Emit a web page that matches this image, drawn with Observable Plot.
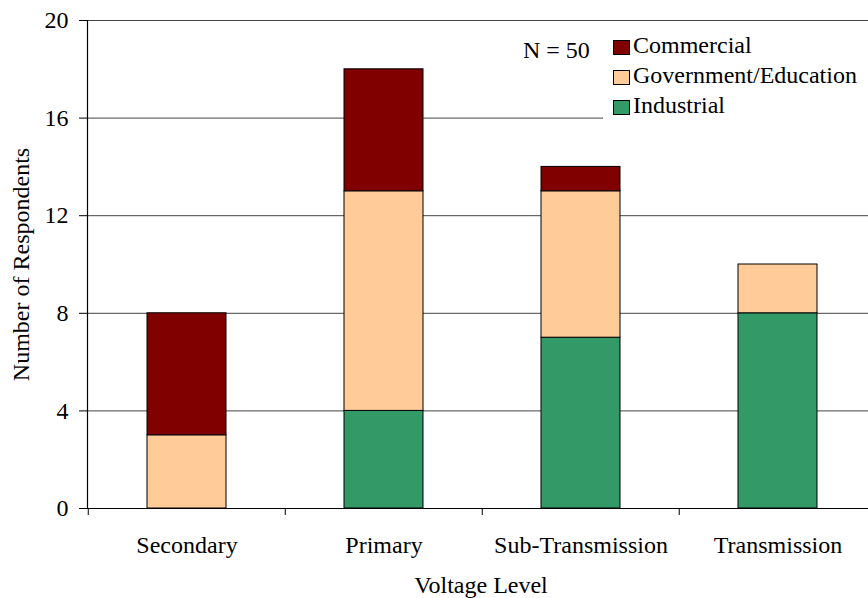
<!DOCTYPE html>
<html>
<head>
<meta charset="utf-8">
<script src="https://cdn.jsdelivr.net/npm/d3@7"></script>
<script src="https://cdn.jsdelivr.net/npm/@observablehq/plot@0.6"></script>
<style>
  html, body { margin: 0; padding: 0; background: #fff; }
  #wrap { position: relative; width: 868px; height: 598px; font-family: 'Liberation Serif', 'Times New Roman', serif; }
  #legend { position: absolute; left: 603px; top: 27px; width: 265px; height: 100px; background: #fff; font-size: 24px; color: #000; }
  .row { position: absolute; left: 10px; height: 24px; line-height: 24px; white-space: nowrap; }
  .sw { position: absolute; left: 0; top: 7px; width: 17px; height: 15px; border: 1px solid #000; box-sizing: border-box; }
  .lab { position: absolute; left: 20px; top: 0; }
  #nlabel { position: absolute; left: 523px; top: 37px; font-size: 24px; line-height: 26px; white-space: nowrap; }
</style>
</head>
<body>
<div id="wrap"></div>
<script>
// ---- data ----
const categories = ["Secondary", "Primary", "Sub-Transmission", "Transmission"];
const seriesNames = ["Industrial", "Government/Education", "Commercial"]; // bottom to top
const industrial = [0, 4, 7, 8];
const government = [3, 9, 6, 2];
const commercial = [5, 5, 1, 0];
const seriesColors = ["#339966", "#FFCC99", "#800000"];
const yTicks = [0, 4, 8, 12, 16, 20];
const gridTicks = [4, 8, 12, 16, 20];
const legendOrder = ["Commercial", "Government/Education", "Industrial"];
const nLabel = "N = 50";
const xTitle = "Voltage Level";
const yTitle = "Number of Respondents";

const seriesValues = [industrial, government, commercial];
const rows = [];
categories.forEach((c, i) => {
  seriesNames.forEach((s, j) => {
    const v = seriesValues[j][i];
    if (v > 0) rows.push({ category: c, series: s, value: v });
  });
});

const step = 790 / 4;
const FONT = "'Liberation Serif', 'Times New Roman', serif";

const chart = Plot.plot({
  width: 868,
  height: 598,
  marginTop: 20,
  marginBottom: 90,
  marginLeft: 87,
  marginRight: 0,
  style: { fontFamily: FONT, fontSize: "24px", color: "#000", background: "#fff" },
  x: { domain: categories, range: [87, 877], paddingInner: 0.6, paddingOuter: 0.3 },
  y: { domain: [0, 20] },
  color: { domain: seriesNames, range: seriesColors },
  marks: [
    Plot.ruleY(gridTicks, { stroke: "#444", strokeWidth: 1 }),
    Plot.barY(rows, {
      x: "category", y: "value", fill: "series",
      order: seriesNames,
      stroke: "#000", strokeWidth: 1
    }),
    Plot.ruleY([0], { stroke: "#000", strokeWidth: 1.2 }),
    Plot.frame({ anchor: "left", stroke: "#000", strokeWidth: 1.2 }),
    Plot.axisY({ ticks: yTicks, tickSize: 8, tickPadding: 11, label: null, stroke: "#000", strokeOpacity: 1, fontSize: 24, fontFamily: FONT }),
    Plot.axisX({ ticks: categories, text: null, tickSize: 7, dx: -step / 2, label: null, strokeOpacity: 1 }),
    Plot.axisX({ ticks: categories, tickSize: 0, tickPadding: 27, label: null, fontSize: 24, fontFamily: FONT }),
    Plot.text([xTitle], { frameAnchor: "bottom", lineAnchor: "middle", textAnchor: "middle", dy: 77, dx: 3, text: d => d, fontSize: 24, fontFamily: FONT }),
    Plot.text([yTitle], { frameAnchor: "left", lineAnchor: "middle", textAnchor: "middle", dx: -66, rotate: -90, text: d => d, fontSize: 24, fontFamily: FONT })
  ]
});

const wrap = document.getElementById("wrap");
wrap.appendChild(chart);

const legend = document.createElement("div");
legend.id = "legend";
legendOrder.forEach((name, i) => {
  const row = document.createElement("div");
  row.className = "row";
  row.style.top = (6 + i * 30) + "px";
  const sw = document.createElement("span");
  sw.className = "sw";
  sw.style.background = seriesColors[seriesNames.indexOf(name)];
  const lab = document.createElement("span");
  lab.className = "lab";
  lab.textContent = name;
  row.appendChild(sw);
  row.appendChild(lab);
  legend.appendChild(row);
});
wrap.appendChild(legend);

const n = document.createElement("div");
n.id = "nlabel";
n.textContent = nLabel;
wrap.appendChild(n);
</script>
</body>
</html>
